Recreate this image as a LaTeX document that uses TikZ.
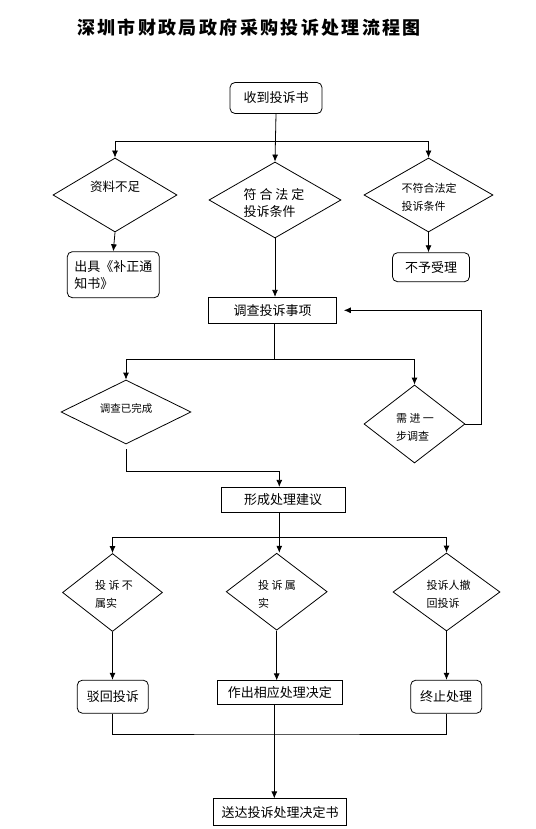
\documentclass[tikz,border=0pt]{standalone}
\usepackage{fontspec}
\setmainfont{Noto Sans CJK SC}
\usetikzlibrary{arrows.meta}
\usetikzlibrary{shapes.geometric}

\begin{document}
\begin{tikzpicture}[x=1pt,y=-1pt,>={Latex[length=7pt,width=6pt]},line width=.8pt,
  box/.style={draw,rectangle,inner sep=0pt,align=left,font=\fontsize{13}{17}\selectfont},
  rbox/.style={box,rounded corners=5pt},
  dia/.style={draw,diamond,inner sep=0pt},
  txt/.style={inner sep=0pt,align=left,font=\fontsize{11}{18}\selectfont}]
\useasboundingbox (0,0) rectangle (535,829);

\node[font=\fontsize{18}{20}\selectfont\bfseries\addfontfeature{LetterSpace=13}] (title) at (249,28) {深圳市财政局政府采购投诉处理流程图};

% receive and check
\node[rbox,minimum width=92,minimum height=31](recv) at (276,98) {收到投诉书};
\node[dia,minimum width=124,minimum height=74](d1) at (115,195) {};
\node[dia,minimum width=132,minimum height=76](d2) at (275,200) {};
\node[dia,minimum width=129,minimum height=74](d3) at (428.5,195) {};
\node[txt,font=\fontsize{12.5}{17.5}\selectfont](t1) at (115,187) {资料不足};
\node[txt,font=\fontsize{13}{17.5}\selectfont](t2) at (274,203) {符 合 法 定\\投诉条件};
\node[txt](t3) at (429,197) {不符合法定\\投诉条件};
\node[rbox,minimum width=92,minimum height=46](notice) at (113.3,274.7) {出具《补正通\\知书》};
\node[rbox,minimum width=77,minimum height=29](refuse) at (431,267.2) {不予受理};

\coordinate (b1) at (275,141);
\draw[->] (recv.south) -- (d2.north);
\draw[->] (b1) -| (d1.north);
\draw[->] (b1) -| (d3.north);
\draw[->] (d1.south) -- (notice.north);
\draw[->] (d3.south) -- (d3.south |- refuse.north);

% investigation
\node[box,minimum width=128,minimum height=26](inv) at (272.5,310.3) {调查投诉事项};
\draw[->] (d2.south) -- (d2.south |- inv.north);
\node[dia,minimum width=130,minimum height=64](d4) at (126,412) {};
\node[dia,minimum width=101,minimum height=78](d5) at (414.5,424) {};
\node[txt,font=\fontsize{10.5}{18}\selectfont](t4) at (126,408) {调查已完成};
\node[txt](t5) at (415,427) {需 进 一\\步调查};

\coordinate (b2) at (274.3,359.3);
\draw (inv.south -| b2) -- (b2);
\draw[->] (b2) -| (d4.north);
\draw[->] (b2) -| (d5.north);
\coordinate (fb) at (481.7,310.3);
\draw[->,shorten >=7pt] (d5.east) -| (fb) -- (inv.east);

\node[box,minimum width=124,minimum height=25](sug) at (283,499.8) {形成处理建议};
\coordinate (b3) at (279.3,471.7);
\draw[->] ([yshift=-5pt]d4.south) |- (b3) -- (b3 |- sug.north);

% decision
\node[dia,minimum width=100,minimum height=78](d6) at (112.5,592.5) {};
\node[dia,minimum width=101,minimum height=77](d7) at (276.7,591.7) {};
\node[dia,minimum width=107,minimum height=78](d8) at (446.5,592) {};
\node[txt](t6) at (114,594) {投 诉 不\\属实};
\node[txt](t7) at (277,594) {投 诉 属\\实};
\node[txt](t8) at (448.7,594) {投诉人撤\\回投诉};

\coordinate (b4) at (279.3,537.3);
\draw (sug.south -| b4) -- (b4);
\draw[->] (b4) -| (d6.north);
\draw[->] (b4) -- (b4 |- d7.north);
\draw[->] (b4) -| (d8.north);

\node[rbox,minimum width=71,minimum height=33](dismiss) at (112.8,696.7) {驳回投诉};
\node[box,minimum width=125,minimum height=24](decide) at (279.8,692.8) {作出相应处理决定};
\node[rbox,minimum width=71,minimum height=33](stop) at (446.2,696.7) {终止处理};
\draw[->] (d6.south) -- (d6.south |- dismiss.north);
\draw[->] (d7.south) -- (d7.south |- decide.north);
\draw[->] (d8.south) -- (d8.south |- stop.north);

\node[box,minimum width=133,minimum height=27](send) at (280,812.3) {送达投诉处理决定书};
\coordinate (b5) at (274.3,734);
\draw (dismiss.south) |- (b5) -| (stop.south);
\draw[->] (decide.south -| b5) -- (b5 |- send.north);
\end{tikzpicture}
\end{document}
